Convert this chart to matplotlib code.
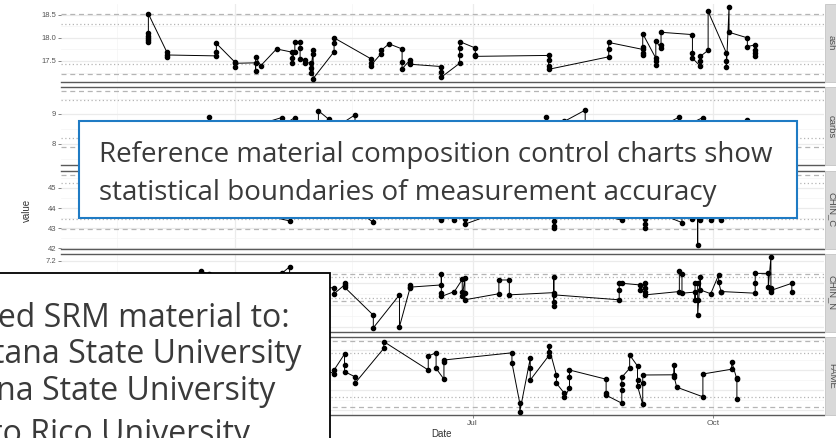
import matplotlib
matplotlib.use('Agg')
import matplotlib.pyplot as plt
import matplotlib.dates as mdates
from matplotlib.patches import Rectangle
from matplotlib.ticker import FixedLocator
import pandas as pd

W, H, DPI = 837, 438, 100

facets = ['ash', 'carbs', 'CHIN_C', 'CHIN_N', 'FAME']

# replicate measurements per run date
ash_days = ['2019-02-27', '2019-03-06', '2019-03-25', '2019-04-01', '2019-04-09', '2019-04-11',
            '2019-04-17', '2019-04-23', '2019-04-24', '2019-04-26', '2019-04-28', '2019-04-30',
            '2019-05-01', '2019-05-09', '2019-05-23', '2019-05-27', '2019-05-30', '2019-06-04',
            '2019-06-07', '2019-06-19', '2019-06-26', '2019-07-02', '2019-07-30', '2019-08-22',
            '2019-09-04', '2019-09-09', '2019-09-11', '2019-09-23', '2019-09-26', '2019-09-29',
            '2019-10-06', '2019-10-07', '2019-10-14', '2019-10-17']
ash_reps = [[17.92, 17.95, 18.0, 18.05, 18.1, 18.52], [17.70, 17.58, 17.63], [17.61, 17.70, 17.88],
            [17.48, 17.38, 17.45], [17.46, 17.28, 17.59], [17.40], [17.76], [17.69, 17.45, 17.56],
            [17.69, 17.91], [17.91, 17.77, 17.55], [17.52, 17.46], [17.46, 17.34, 17.23],
            [17.73, 17.66, 17.12], [17.70, 17.88, 18.0], [17.55, 17.46, 17.40], [17.66, 17.73],
            [17.87], [17.76, 17.47, 17.33], [17.52, 17.46, 17.43], [17.38, 17.27, 17.15],
            [17.45, 17.63, 17.78, 17.92], [17.78, 17.64, 17.60], [17.62, 17.52, 17.40, 17.32],
            [17.59, 17.75, 17.90], [17.75, 17.62, 17.67, 17.81, 18.09], [17.56, 17.49, 17.41, 17.93],
            [17.78, 17.85, 18.12], [18.07, 17.67, 17.56], [17.39, 17.49, 17.60], [17.73, 18.57],
            [17.67, 17.49, 17.36], [18.67, 18.12], [18.0, 17.81], [17.85, 17.74, 17.67, 17.61]]

carbs_days = ['2019-02-27', '2019-03-06', '2019-03-22', '2019-04-01', '2019-04-19', '2019-04-24',
              '2019-05-03', '2019-05-07', '2019-05-17', '2019-06-07', '2019-06-19', '2019-07-02',
              '2019-07-29', '2019-08-05', '2019-08-13', '2019-08-27', '2019-09-05', '2019-09-18',
              '2019-09-27', '2019-10-14', '2019-10-23']
carbs_reps = [[8.5, 8.3, 8.6], [8.4, 8.2], [8.6, 8.91, 8.5], [8.3, 8.4], [8.88, 8.6], [8.88, 8.5],
              [8.5, 9.11], [8.82, 8.4], [8.97, 8.6], [8.3, 8.5], [8.2, 8.4], [8.5, 8.3],
              [8.5, 8.91, 8.6], [8.75], [9.13, 8.6], [8.4, 8.6], [8.5, 8.3], [8.9, 8.5],
              [8.88, 8.4], [8.8, 8.5], [8.6, 8.4]]

chinc_days = ['2019-02-27', '2019-03-06', '2019-03-22', '2019-04-01', '2019-04-22', '2019-05-09',
              '2019-05-24', '2019-06-07', '2019-06-19', '2019-06-24', '2019-06-28', '2019-07-15',
              '2019-08-01', '2019-08-27', '2019-09-05', '2019-09-19', '2019-09-23', '2019-09-25',
              '2019-09-26', '2019-09-30', '2019-10-04', '2019-10-17', '2019-10-23', '2019-10-31']
chinc_reps = [[44.3, 44.6, 44.1], [44.5, 44.2], [44.8, 44.4], [44.2, 44.0], [43.36, 44.1],
              [44.4, 44.6], [43.3, 44.0], [44.2], [43.39, 44.0], [43.39, 43.8], [43.44, 43.2],
              [44.0, 44.3], [44.1, 43.36, 43.1, 43.0, 44.2], [43.4, 44.2], [43.44, 43.0, 43.2, 44.0],
              [43.28, 44.0], [43.44, 44.3], [44.4, 42.17, 44.2], [43.39, 44.1], [43.42, 44.0],
              [43.4, 44.3], [44.2, 44.5], [44.6, 44.1], [44.3]]

chinn_days = ['2019-02-27', '2019-03-06', '2019-03-19', '2019-03-22', '2019-04-01', '2019-04-19',
              '2019-04-22', '2019-05-09', '2019-05-13', '2019-05-24', '2019-06-03', '2019-06-07',
              '2019-06-19', '2019-06-24', '2019-06-27', '2019-06-28', '2019-07-11', '2019-07-15',
              '2019-08-01', '2019-08-26', '2019-08-27', '2019-09-03', '2019-09-05', '2019-09-18',
              '2019-09-19', '2019-09-24', '2019-09-25', '2019-09-26', '2019-09-30', '2019-10-03',
              '2019-10-04', '2019-10-17', '2019-10-22', '2019-10-23', '2019-10-31']
chinn_reps = [[6.7, 6.6, 6.8], [6.75, 6.6], [6.85, 7.01], [6.96, 6.8], [6.6, 6.7], [6.8, 6.97],
              [7.09, 6.85], [6.7, 6.6], [6.76, 6.79, 6.72], [6.21, 5.98], [6.58, 6.0],
              [6.7, 6.76, 6.72], [6.76, 6.96, 6.61, 6.55], [6.64], [6.86, 6.64, 6.55],
              [6.88, 6.61, 6.49], [6.6, 6.85], [6.85, 6.58], [6.62, 6.91, 6.45, 6.37, 6.58],
              [6.49, 6.67, 6.79], [6.79], [6.76, 6.67], [6.79, 6.70, 6.64, 6.58], [6.64, 7.02],
              [6.95, 6.61], [6.63, 6.49, 6.8], [6.79, 6.49, 6.21], [6.91, 6.67], [6.6],
              [6.94, 6.82], [6.63, 6.64], [6.61, 6.79, 6.97], [6.97, 6.72],
              [7.26, 6.70, 6.64, 6.66], [6.79, 6.64]]

fame_days = ['2019-02-27', '2019-03-06', '2019-03-22', '2019-04-01', '2019-04-22', '2019-05-09',
             '2019-05-13', '2019-05-17', '2019-05-28', '2019-06-14', '2019-06-17', '2019-06-20',
             '2019-07-16', '2019-07-19', '2019-07-23', '2019-07-30', '2019-08-02', '2019-08-05',
             '2019-08-07', '2019-08-21', '2019-08-27', '2019-08-30', '2019-09-02', '2019-09-04',
             '2019-09-16', '2019-09-17', '2019-09-27', '2019-10-08', '2019-10-10']
fame_reps = [[10.1, 9.8, 10.3], [9.6, 9.9], [10.4, 10.2], [9.7, 9.5], [10.2, 10.5], [9.9, 10.0],
             [10.4, 10.125, 9.96], [9.83, 9.67], [10.54, 10.71], [10.0, 10.35], [10.43, 10.04],
             [9.77, 10.2, 10.25], [10.43, 10.18], [9.17, 8.96], [10.29, 10.04, 9.75],
             [10.35, 10.46, 10.6], [9.875, 9.67], [9.42, 9.32], [9.54, 9.83, 10.0],
             [9.77, 9.42, 9.37], [9.17, 9.5, 9.65, 9.82], [10.04, 10.375], [10.1, 9.75, 9.6],
             [9.14, 9.67, 9.875], [9.88, 10.125, 9.83], [9.57], [9.33, 9.9], [10.02, 10.21],
             [9.77, 9.8, 9.27]]

# dashed low, dotted low, dotted high, dashed high
ash_limits = [17.22, 17.43, 18.30, 18.51]
carbs_limits = [7.89, 8.20, 9.47, 9.78]
chinc_limits = [42.97, 43.44, 45.24, 45.65]
chinn_limits = [6.46, 6.53, 6.90, 6.95]
fame_limits = [9.08, 9.33, 10.42, 10.725]

ash_ticks = [17.5, 18.0, 18.5]
carbs_ticks = [8, 9]
chinc_ticks = [42, 43, 44, 45]
chinn_ticks = [6.0, 6.4, 6.8, 7.2]
fame_ticks = [9.0, 9.5, 10.0, 10.5]

# labels that sit under the black text box are left blank
ash_labels = ['17.5', '18.0', '18.5']
carbs_labels = ['8', '9']
chinc_labels = ['42', '43', '44', '45']
chinn_labels = ['', '', '', '7.2']
fame_labels = ['', '', '', '']
month_labels = ['', '', 'Jul', 'Oct']

ylims = [(17.046, 18.731), (7.274, 9.90), (41.99, 45.87), (5.909, 7.327), (8.875, 10.825)]

all_days = [ash_days, carbs_days, chinc_days, chinn_days, fame_days]
all_reps = [ash_reps, carbs_reps, chinc_reps, chinn_reps, fame_reps]
all_limits = [ash_limits, carbs_limits, chinc_limits, chinn_limits, fame_limits]
all_ticks = [ash_ticks, carbs_ticks, chinc_ticks, chinn_ticks, fame_ticks]
all_labels = [ash_labels, carbs_labels, chinc_labels, chinn_labels, fame_labels]

box_title = ['Reference material composition control charts show',
             'statistical boundaries of measurement accuracy']
box_sites = ['Distributed SRM material to:', '\u2022 Montana State University',
             '\u2022 Arizona State University', '\u2022 Puerto Rico University']

plt.rcParams['font.family'] = ['Liberation Sans', 'DejaVu Sans']


def flatten(days, reps):
    x, y = [], []
    for d, vals in zip(days, reps):
        for v in vals:
            x.append(pd.Timestamp(d))
            y.append(v)
    return x, y


def fbox(x0, y0, x1, y1):
    # pixel box (top-left origin) -> figure fraction rect
    return [x0 / W, 1 - y1 / H, (x1 - x0) / W, (y1 - y0) / H]


fig = plt.figure(figsize=(W / DPI, H / DPI), dpi=DPI)

base = mdates.date2num(pd.Timestamp('2019-07-01'))
xlim = (base - 157.4, base + 134.3)
majors = [mdates.date2num(pd.Timestamp(d)) for d in ['2019-01-01', '2019-04-01', '2019-07-01', '2019-10-01']]
minors = [mdates.date2num(pd.Timestamp(d)) for d in ['2019-02-15', '2019-05-16', '2019-08-16', '2019-11-16']]

left, right, ph = 61, 824, 78
tops = [4 + i * 83.25 for i in range(5)]

for i, name in enumerate(facets):
    top = tops[i]
    ax = fig.add_axes(fbox(left, top, right, top + ph))
    x, y = flatten(all_days[i], all_reps[i])
    ax.plot(x, y, color='black', lw=0.7, zorder=4)
    ax.plot(x, y, 'o', color='black', ms=3.0, zorder=5)

    dlo, tlo, thi, dhi = all_limits[i]
    for v in (dlo, dhi):
        ax.axhline(v, color='#B5B5B5', lw=0.9, ls=(0, (4, 3)), zorder=2)
    for v in (tlo, thi):
        ax.axhline(v, color='#B5B5B5', lw=0.9, ls=(0, (1, 2)), zorder=2)

    ticks = all_ticks[i]
    step = ticks[1] - ticks[0]
    ax.set_yticks(ticks)
    ax.set_yticklabels(all_labels[i])
    ax.yaxis.set_minor_locator(FixedLocator([t + step / 2 for t in [ticks[0] - step] + ticks]))
    ax.set_xticks(majors)
    ax.set_xticklabels(month_labels)
    ax.xaxis.set_minor_locator(FixedLocator(minors))
    # limits after ticks, so the ticks do not widen the view
    ax.set_xlim(*xlim)
    ax.set_ylim(*ylims[i])

    ax.grid(True, which='major', color='#EBEBEB', lw=0.9, zorder=0)
    ax.grid(True, which='minor', color='#F4F4F4', lw=0.5, zorder=0)
    ax.set_axisbelow(True)

    for s in ('left', 'right'):
        ax.spines[s].set_visible(False)
    for s in ('top', 'bottom'):
        ax.spines[s].set_color('#5A5A5A')
        ax.spines[s].set_linewidth(1.0)
    if i == 0:
        ax.spines['top'].set_visible(False)

    ax.tick_params(axis='y', which='major', length=2, width=0.5, color='#555555',
                   labelsize=5.5, labelcolor='#555555', pad=1.5)
    ax.tick_params(axis='x', which='major', length=2, width=0.5, color='#555555',
                   labelsize=6, labelcolor='#555555', pad=1.5)
    ax.tick_params(which='minor', length=0)
    if i < 4:
        ax.tick_params(axis='x', labelbottom=False, length=0)

    # facet strip on the right
    fig.add_artist(Rectangle((825 / W, 1 - (top + ph) / H), 20 / W, ph / H,
                             transform=fig.transFigure, fc='#D9D9D9', ec='#C4C4C4', lw=0.6))
    fig.text(831.5 / W, 1 - (top + ph / 2) / H, name, rotation=-90, ha='center', va='center',
             fontsize=6.8, color='#4D4D4D')

fig.text(26.5 / W, 1 - 210 / H, 'value', rotation=90, ha='center', va='center',
         fontsize=7, color='#333333')
fig.text(442 / W, 1 - 434 / H, 'Date', ha='center', va='center', fontsize=7, color='#333333')

# overlay text boxes
fig.add_artist(Rectangle((78.7 / W, 1 - 218.3 / H), 718.6 / W, 97.3 / H, transform=fig.transFigure,
                         fc='white', ec='#1F7BC4', lw=1.5, zorder=10))
for line, base_y in zip(box_title, [161.7, 200.0]):
    fig.text(99 / W, 1 - base_y / H, line, ha='left', va='baseline', family='Open Sans',
             fontsize=20, color='#3A3A3A', zorder=11)

fig.add_artist(Rectangle((-20 / W, -20 / H), 350 / W, (438 - 273.3 + 20) / H,
                         transform=fig.transFigure, fc='white', ec='black', lw=1.3, zorder=10))
for line, base_y, x_end in zip(box_sites, [326.7, 363.3, 400.0, 443.3], [290, 301.7, 275, 250]):
    fig.text(x_end / W, 1 - base_y / H, line, ha='right', va='baseline', family='Open Sans',
             fontsize=23, color='#3A3A3A', zorder=11)

fig.savefig('out.png', dpi=DPI)
